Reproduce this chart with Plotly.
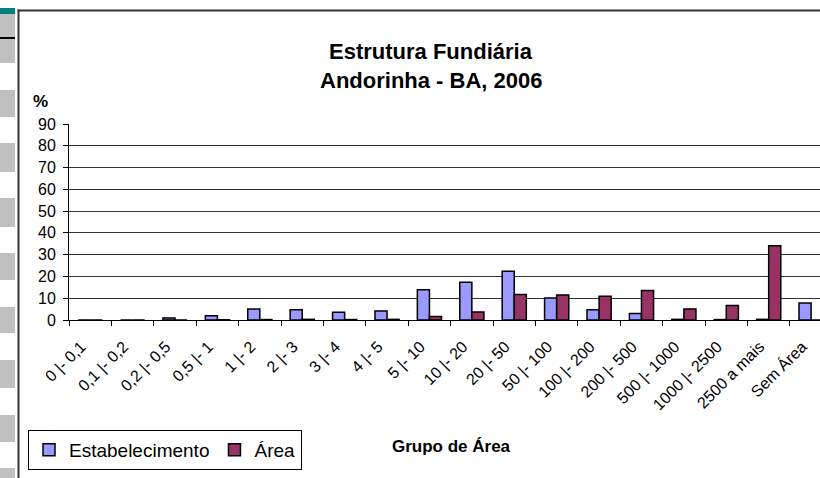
import plotly.graph_objects as go

categories = ["0 |- 0,1", "0,1 |- 0,2", "0,2 |- 0,5", "0,5 |- 1", "1 |- 2", "2 |- 3",
              "3 |- 4", "4 |- 5", "5 |- 10", "10 |- 20", "20 |- 50", "50 |- 100",
              "100 |- 200", "200 |- 500", "500 |- 1000", "1000 |- 2500",
              "2500 a mais", "Sem Área"]
estabelecimento = [0, 0, 0.9, 2.0, 5.0, 4.7, 3.6, 4.1, 13.9, 17.3, 22.4, 10.1,
                   4.7, 3.0, 0.3, 0.2, 0.3, 7.8]
area = [0, 0, 0, 0.1, 0.2, 0.3, 0.2, 0.3, 1.6, 3.7, 11.7, 11.5,
        10.9, 13.6, 5.1, 6.7, 34.1, 0]
y_ticks = [0, 10, 20, 30, 40, 50, 60, 70, 80, 90]

W, H = 820, 478
L, R, T, B = 69, 0, 124, 158
PW, PH = W - L - R, H - T - B
FONT = "Liberation Sans, Arial, sans-serif"


def px(x):
    return (x - L) / PW


def py(y):
    return (H - B - y) / PH


fig = go.Figure()
fig.add_trace(go.Bar(x=categories, y=estabelecimento, name="Estabelecimento",
                     marker=dict(color="#9999FF", line=dict(color="#000000", width=1.5))))
fig.add_trace(go.Bar(x=categories, y=area, name="Área",
                     marker=dict(color="#993366", line=dict(color="#000000", width=1.5))))

shapes = []
# spreadsheet strip decorations on the left
shapes.append(dict(type="rect", xref="paper", yref="paper", x0=px(0), x1=px(15),
                   y0=py(8), y1=py(14), fillcolor="#008080", line=dict(width=0), layer="above"))
gray_blocks = [(14, 37), (39, 63), (90, 117), (143, 172), (198, 227), (253, 280),
               (307, 333), (360, 388), (415, 442), (468, 478)]
for a, b in gray_blocks:
    shapes.append(dict(type="rect", xref="paper", yref="paper", x0=px(0), x1=px(15),
                       y0=py(a), y1=py(b), fillcolor="#C0C0C0", line=dict(width=0), layer="above"))
shapes.append(dict(type="rect", xref="paper", yref="paper", x0=px(0), x1=px(15),
                   y0=py(37), y1=py(39), fillcolor="#000000", line=dict(width=0), layer="above"))
# chart frame drawn as thin filled bands (left and top edges)
shapes.append(dict(type="rect", xref="paper", yref="paper", x0=px(17.5), x1=px(19.5),
                   y0=py(9.5), y1=py(478), fillcolor="#333333", line=dict(width=0),
                   layer="above"))
shapes.append(dict(type="rect", xref="paper", yref="paper", x0=px(17.5), x1=px(820),
                   y0=py(9.5), y1=py(11.5), fillcolor="#333333", line=dict(width=0),
                   layer="above"))

annotations = [
    dict(text="<b>Estrutura Fundiária</b>", x=px(431), y=py(51), xref="paper", yref="paper",
         showarrow=False, font=dict(family=FONT, size=22, color="#000000"),
         xanchor="center", yanchor="middle"),
    dict(text="<b>Andorinha - BA, 2006</b>", x=px(431), y=py(80), xref="paper", yref="paper",
         showarrow=False, font=dict(family=FONT, size=22, color="#000000"),
         xanchor="center", yanchor="middle"),
    dict(text="<b>%</b>", x=px(40), y=py(101), xref="paper", yref="paper",
         showarrow=False, font=dict(family=FONT, size=17, color="#000000"),
         xanchor="center", yanchor="middle"),
    dict(text="<b>Grupo de Área</b>", x=px(451), y=py(446), xref="paper", yref="paper",
         showarrow=False, font=dict(family=FONT, size=17, color="#000000"),
         xanchor="center", yanchor="middle"),
]

fig.update_layout(
    width=W, height=H,
    margin=dict(l=L, r=R, t=T, b=B, pad=0, autoexpand=False),
    paper_bgcolor="#FFFFFF", plot_bgcolor="#FFFFFF",
    barmode="group", bargap=0.43, bargroupgap=0,
    font=dict(family=FONT, color="#000000"),
    showlegend=True,
    legend=dict(orientation="h", xref="container", yref="container",
                x=28 / W, y=1 - 430 / H, xanchor="left", yanchor="top",
                bordercolor="#000000", borderwidth=1, bgcolor="#FFFFFF",
                font=dict(family=FONT, size=19, color="#000000"),
                itemwidth=30, tracegroupgap=0),
    shapes=shapes,
    annotations=annotations,
)
fig.update_xaxes(type="category", range=[-0.5, 17.21], tickson="boundaries",
                 ticks="outside", ticklen=5, tickcolor="#000000",
                 showline=True, linecolor="#000000", linewidth=1,
                 tickangle=-45, tickfont=dict(family=FONT, size=16, color="#000000"),
                 ticklabelstandoff=10, ticklabelshift=-9,
                 showgrid=False, fixedrange=True, automargin=False)
fig.update_yaxes(range=[0, 90], tickvals=y_ticks, ticks="outside", ticklen=5,
                 tickcolor="#000000", showline=True, linecolor="#000000", linewidth=1,
                 showgrid=True, gridcolor="#333333", gridwidth=1, zeroline=False,
                 tickfont=dict(family=FONT, size=16, color="#000000"), fixedrange=True,
                 ticklabelstandoff=4, automargin=False)

fig.write_html(
    "out.html",
    config={"displayModeBar": False},
    post_script="document.body.style.margin='0';document.body.style.overflow='hidden';",
)
